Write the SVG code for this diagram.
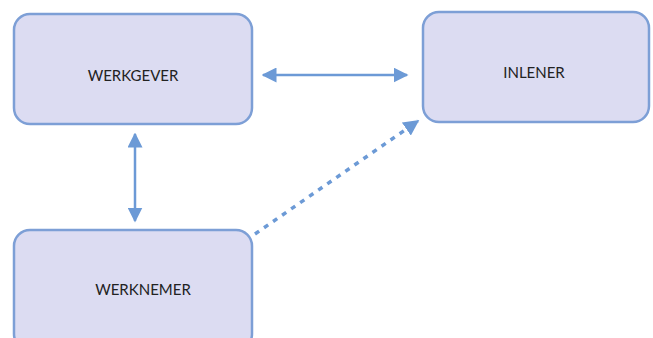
<svg xmlns="http://www.w3.org/2000/svg" width="653" height="338" viewBox="0 0 653 338">
<style>
.box{fill:#dcdcf2;stroke:#7d9fd6;stroke-width:2.5}
.lbl{font-family:"Lato","Liberation Sans",sans-serif;font-size:15px;fill:#222;text-anchor:middle;dominant-baseline:central}
.con{stroke:#6c9ad6;stroke-width:2.5;fill:none}
.dash{stroke-dasharray:5 6;stroke-width:3.5}
</style>
<defs>
<marker id="ah" viewBox="0 0 10 10" refX="9" refY="5" markerWidth="6" markerHeight="6" orient="auto-start-reverse" markerUnits="strokeWidth">
<path d="M0,0 L10,5 L0,10 Z" fill="#6c9ad6"/>
</marker>
<marker id="ah2" viewBox="0 0 10 10" refX="9" refY="5" markerWidth="4.5" markerHeight="4.5" orient="auto" markerUnits="strokeWidth">
<path d="M0,0 L10,5 L0,10 Z" fill="#6c9ad6"/>
</marker>
</defs>
<rect width="653" height="338" fill="#fff"/>
<g id="werkgever"><rect class="box" x="14" y="14" width="238" height="110" rx="16"/><text class="lbl" x="133" y="75">WERKGEVER</text></g>
<g id="inlener"><rect class="box" x="423" y="12" width="226" height="110" rx="16"/><text class="lbl" x="534" y="72">INLENER</text></g>
<g id="werknemer"><rect class="box" x="14" y="230" width="238" height="120" rx="16"/><text class="lbl" x="143" y="289">WERKNEMER</text></g>
<g id="connectors">
<line class="con" x1="263" y1="75" x2="407" y2="75" marker-start="url(#ah)" marker-end="url(#ah)"/>
<line class="con" x1="135" y1="134" x2="135" y2="221" marker-start="url(#ah)" marker-end="url(#ah)"/>
<line class="con dash" x1="255" y1="234" x2="418" y2="121" marker-end="url(#ah2)"/>
</g>
</svg>
